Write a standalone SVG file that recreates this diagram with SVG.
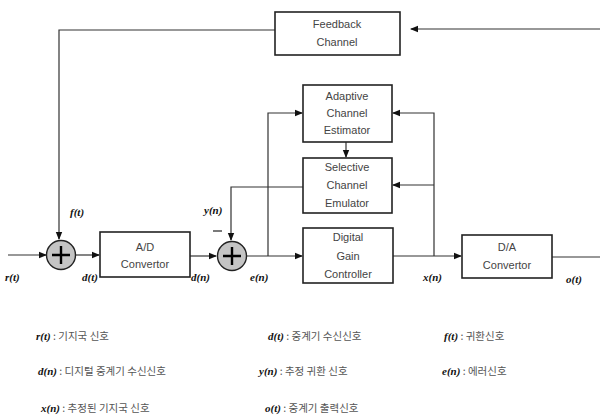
<svg xmlns="http://www.w3.org/2000/svg" width="600" height="419" viewBox="0 0 600 419">
<style>
.box{fill:#fff;stroke:#222;stroke-width:1.6}
.bt{font-family:"Liberation Sans",Arial,sans-serif;font-size:11px;fill:#444;text-anchor:middle}
.ln{fill:none;stroke:#333;stroke-width:1.2}
.sum{fill:#c4c4c4;stroke:#222;stroke-width:1.4}
.plus{stroke:#000;stroke-width:2.4}
.lab{font-family:"Liberation Serif","Times New Roman",serif;font-size:11px;font-style:italic;font-weight:bold;fill:#111}
.kr{font-family:"Noto Sans CJK KR","Noto Sans",sans-serif;font-size:10.5px;fill:#555}
</style>
<defs>
<marker id="ah" markerWidth="8" markerHeight="8" refX="7" refY="4" orient="auto" markerUnits="userSpaceOnUse">
<path d="M0,0.8 L8,4 L0,7.2 Z" fill="#111"/>
</marker>
</defs>
<rect width="600" height="419" fill="#fff"/>

<g id="connectors">
<path class="ln" d="M600,29 L411,29" marker-end="url(#ah)"/>
<path class="ln" d="M275,30 L59,30 L59,239" marker-end="url(#ah)"/>
<path class="ln" d="M8,255 L46,255" marker-end="url(#ah)"/>
<path class="ln" d="M76,255 L99,255" marker-end="url(#ah)"/>
<path class="ln" d="M190,256 L216,256" marker-end="url(#ah)"/>
<path class="ln" d="M247,256 L302,256" marker-end="url(#ah)"/>
<path class="ln" d="M268,256 L268,113 L302,113" marker-end="url(#ah)"/>
<path class="ln" d="M346,142 L346,157" marker-end="url(#ah)"/>
<path class="ln" d="M303,187 L231,187 L231,240" marker-end="url(#ah)"/>
<path class="ln" d="M393,256 L461,256" marker-end="url(#ah)"/>
<path class="ln" d="M434,256 L434,113 L393,113" marker-end="url(#ah)"/>
<path class="ln" d="M434,185 L393,185" marker-end="url(#ah)"/>
<path class="ln" d="M552,257 L600,257"/>
<path d="M213,231 L222,231" stroke="#222" stroke-width="1.2"/>
</g>

<g id="feedback-channel">
<rect class="box" x="275" y="12" width="125" height="43"/>
<text class="bt" x="337" y="28">Feedback</text>
<text class="bt" x="337" y="46">Channel</text>
</g>

<g id="sum1">
<circle class="sum" cx="61" cy="255" r="14.5"/>
<path class="plus" d="M52,255 L70,255 M61,246 L61,264"/>
</g>

<g id="ad-convertor">
<rect class="box" x="100" y="232" width="90" height="45"/>
<text class="bt" x="145" y="251">A/D</text>
<text class="bt" x="145" y="268">Convertor</text>
</g>

<g id="sum2">
<circle class="sum" cx="232" cy="256" r="14.5"/>
<path class="plus" d="M223,256 L241,256 M232,247 L232,265"/>
</g>

<g id="adaptive-channel-estimator">
<rect class="box" x="303" y="85" width="89" height="57"/>
<text class="bt" x="347" y="100">Adaptive</text>
<text class="bt" x="347" y="117">Channel</text>
<text class="bt" x="347" y="134">Estimator</text>
</g>

<g id="selective-channel-emulator">
<rect class="box" x="303" y="158" width="89" height="55"/>
<text class="bt" x="347" y="171">Selective</text>
<text class="bt" x="347" y="189">Channel</text>
<text class="bt" x="347" y="207">Emulator</text>
</g>

<g id="digital-gain-controller">
<rect class="box" x="303" y="228" width="90" height="55"/>
<text class="bt" x="348" y="241">Digital</text>
<text class="bt" x="348" y="260">Gain</text>
<text class="bt" x="348" y="278">Controller</text>
</g>

<g id="da-convertor">
<rect class="box" x="462" y="235" width="90" height="43"/>
<text class="bt" x="507" y="251">D/A</text>
<text class="bt" x="507" y="269">Convertor</text>
</g>

<g id="signal-labels">
<text class="lab" x="70" y="216">f(t)</text>
<text class="lab" x="5" y="281">r(t)</text>
<text class="lab" x="82" y="281">d(t)</text>
<text class="lab" x="191" y="281">d(n)</text>
<text class="lab" x="204" y="214">y(n)</text>
<text class="lab" x="250" y="281">e(n)</text>
<text class="lab" x="423" y="281">x(n)</text>
<text class="lab" x="566" y="283">o(t)</text>
</g>

<g id="legend">
<text x="36" y="340"><tspan class="lab">r(t)</tspan><tspan class="kr"> : 기지국 신호</tspan></text>
<text x="38" y="375"><tspan class="lab">d(n)</tspan><tspan class="kr"> : 디지털 중계기 수신신호</tspan></text>
<text x="41" y="412"><tspan class="lab">x(n)</tspan><tspan class="kr"> : 추정된 기지국 신호</tspan></text>
<text x="268" y="340"><tspan class="lab">d(t)</tspan><tspan class="kr"> : 중계기 수신신호</tspan></text>
<text x="259" y="375"><tspan class="lab">y(n)</tspan><tspan class="kr"> : 추정 귀환 신호</tspan></text>
<text x="265" y="412"><tspan class="lab">o(t)</tspan><tspan class="kr"> : 중계기 출력신호</tspan></text>
<text x="444" y="340"><tspan class="lab">f(t)</tspan><tspan class="kr"> : 귀환신호</tspan></text>
<text x="442" y="375"><tspan class="lab">e(n)</tspan><tspan class="kr"> : 에러신호</tspan></text>
</g>
</svg>
